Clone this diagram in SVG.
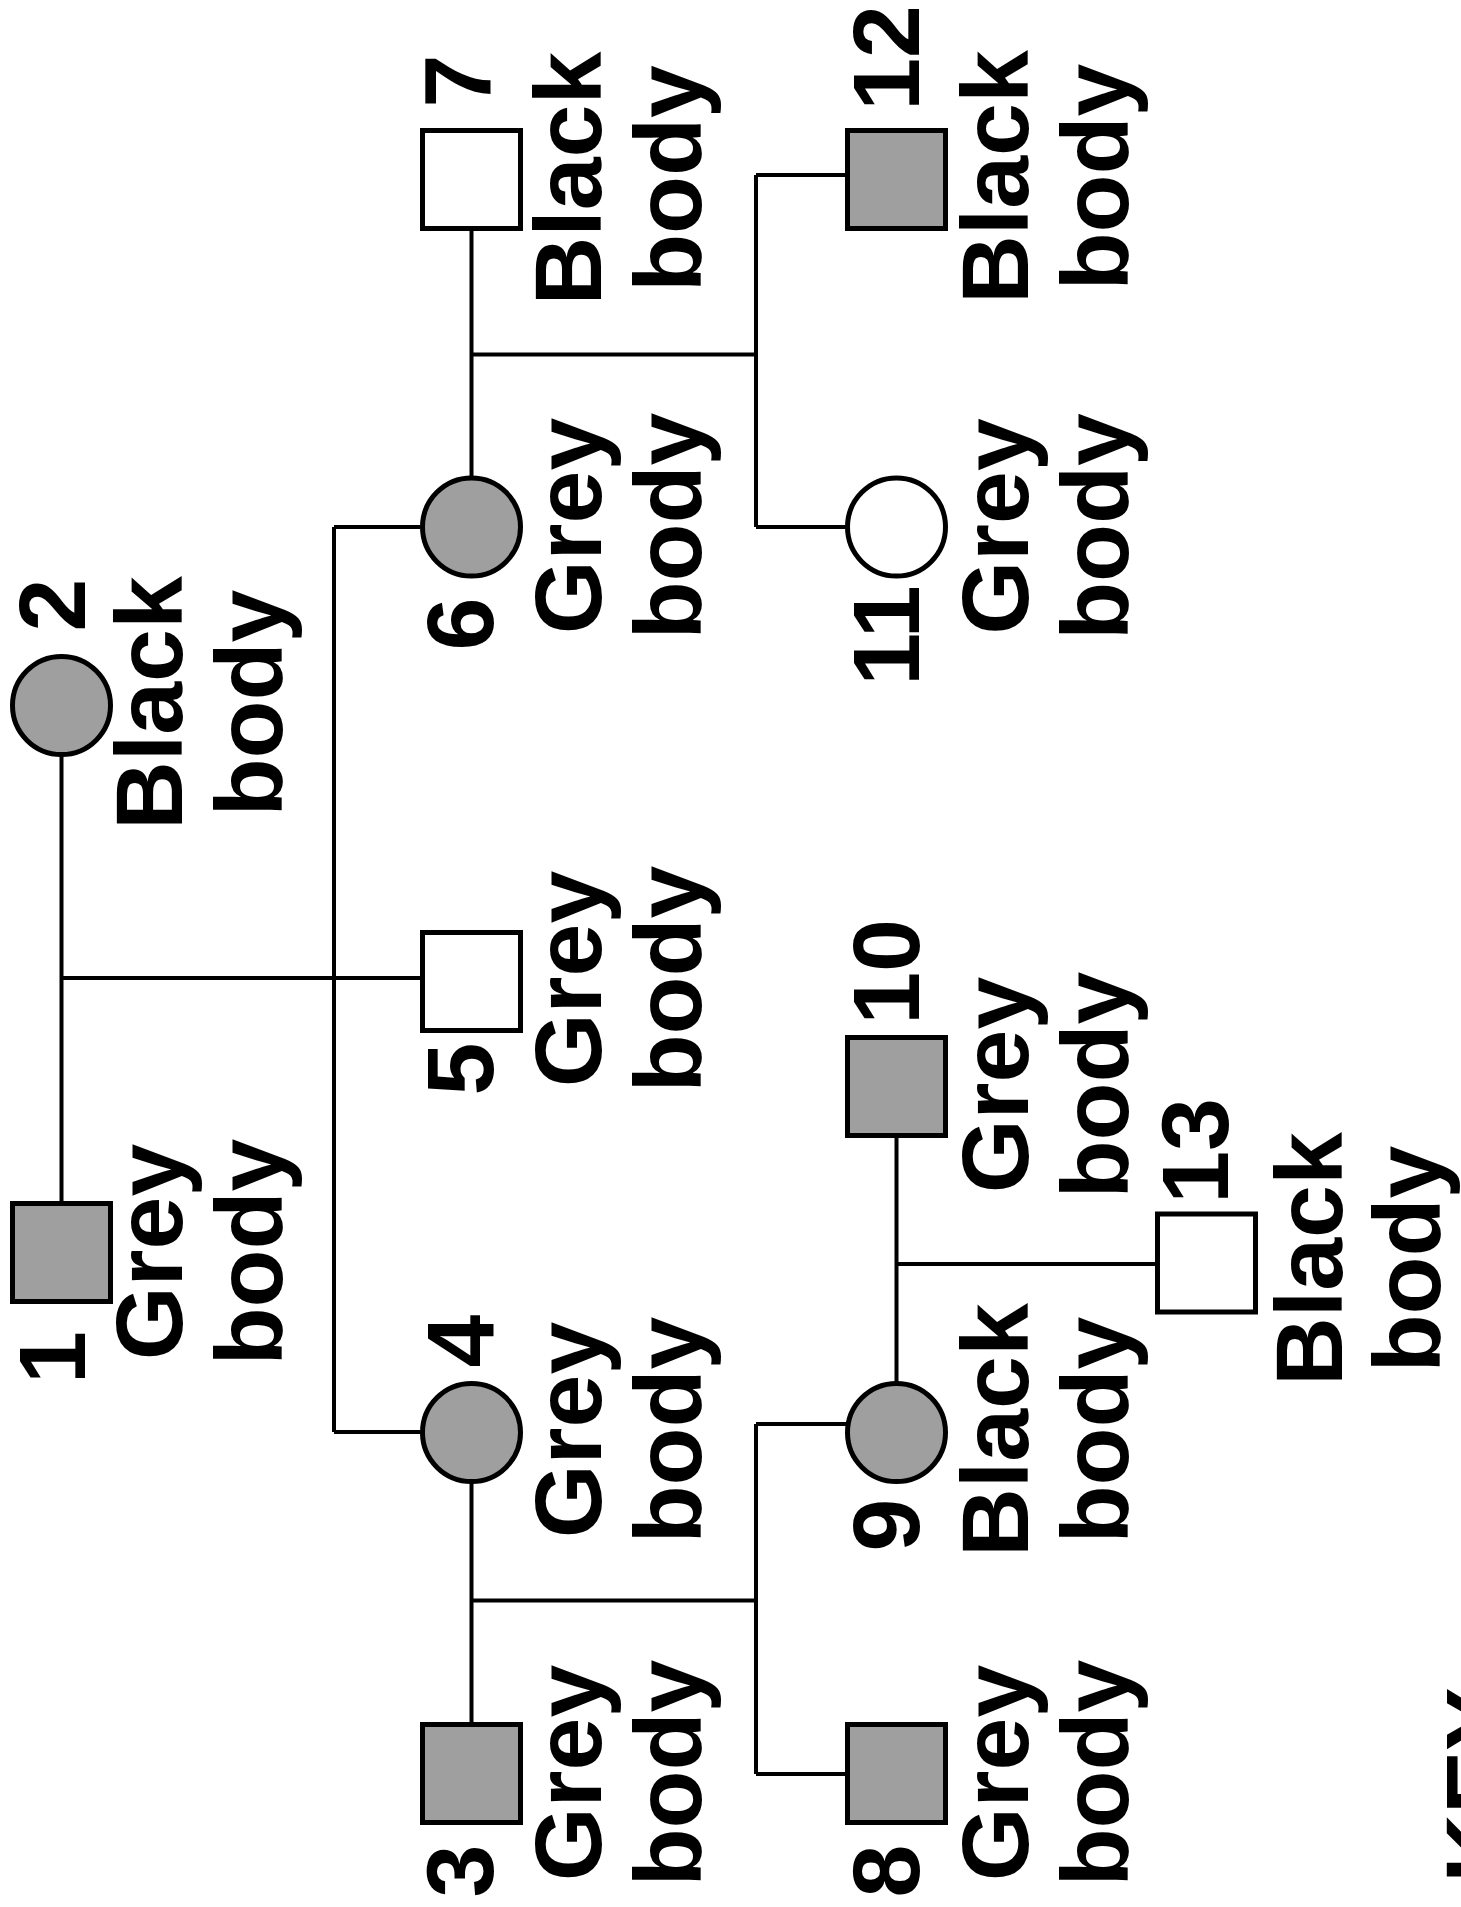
<svg xmlns="http://www.w3.org/2000/svg" width="1461" height="1907" viewBox="0 0 1461 1907">
<style>
.bg{fill:#ffffff}
.sh{stroke:#000;stroke-width:5}
.g{fill:#9f9f9f}
.w{fill:#ffffff}
.c{stroke:#000;stroke-width:4;fill:none}
.t{font-family:"Liberation Sans",Arial,Helvetica,sans-serif;font-weight:bold;font-size:95px;text-anchor:middle;fill:#000}
</style>
<rect class="bg" x="0" y="0" width="1461" height="1907"/>
<g id="connectors">
<path class="c" d="M61.5 756V1202"/>
<path class="c" d="M61.5 978H420.5"/>
<path class="c" d="M334 527V1432"/>
<path class="c" d="M334 527H420.5"/>
<path class="c" d="M334 1432H420.5"/>
<path class="c" d="M471.5 230.5V476.5"/>
<path class="c" d="M471.5 354.5H756"/>
<path class="c" d="M756 175V527"/>
<path class="c" d="M756 175H845.5"/>
<path class="c" d="M756 527H845.5"/>
<path class="c" d="M471.5 1483V1723"/>
<path class="c" d="M471.5 1600.5H756"/>
<path class="c" d="M756 1424V1774"/>
<path class="c" d="M756 1424H848"/>
<path class="c" d="M756 1774H845.5"/>
<path class="c" d="M896.5 1138V1382"/>
<path class="c" d="M896.5 1264H1155"/>
</g>
<g id="n1">
<rect class="sh g" x="12.5" y="1203.5" width="98" height="98"/>
<text class="t" x="85" y="1357.5" transform="rotate(-90 85 1357.5)">1</text>
<text class="t" x="182" y="1252" transform="rotate(-90 182 1252)">Grey</text>
<text class="t" x="282" y="1252" transform="rotate(-90 282 1252)">body</text>
</g>
<g id="n2">
<circle class="sh g" cx="61.5" cy="705.5" r="49"/>
<text class="t" x="85" y="605" transform="rotate(-90 85 605)">2</text>
<text class="t" x="182" y="703" transform="rotate(-90 182 703)">Black</text>
<text class="t" x="282" y="703" transform="rotate(-90 282 703)">body</text>
</g>
<g id="n3">
<rect class="sh g" x="422.5" y="1724.5" width="98" height="98"/>
<text class="t" x="493" y="1871" transform="rotate(-90 493 1871)">3</text>
<text class="t" x="601" y="1773" transform="rotate(-90 601 1773)">Grey</text>
<text class="t" x="701" y="1773" transform="rotate(-90 701 1773)">body</text>
</g>
<g id="n4">
<circle class="sh g" cx="471.5" cy="1432.5" r="49"/>
<text class="t" x="493" y="1341" transform="rotate(-90 493 1341)">4</text>
<text class="t" x="601" y="1430" transform="rotate(-90 601 1430)">Grey</text>
<text class="t" x="701" y="1430" transform="rotate(-90 701 1430)">body</text>
</g>
<g id="n5">
<rect class="sh w" x="422.5" y="932.5" width="98" height="98"/>
<text class="t" x="493" y="1069" transform="rotate(-90 493 1069)">5</text>
<text class="t" x="601" y="979" transform="rotate(-90 601 979)">Grey</text>
<text class="t" x="701" y="979" transform="rotate(-90 701 979)">body</text>
</g>
<g id="n6">
<circle class="sh g" cx="471.5" cy="527" r="49"/>
<text class="t" x="493" y="624" transform="rotate(-90 493 624)">6</text>
<text class="t" x="601" y="526" transform="rotate(-90 601 526)">Grey</text>
<text class="t" x="701" y="526" transform="rotate(-90 701 526)">body</text>
</g>
<g id="n7">
<rect class="sh w" x="422.5" y="130.5" width="98" height="98"/>
<text class="t" x="491" y="81" transform="rotate(-90 491 81)">7</text>
<text class="t" x="601" y="178.5" transform="rotate(-90 601 178.5)">Black</text>
<text class="t" x="701" y="178.5" transform="rotate(-90 701 178.5)">body</text>
</g>
<g id="n8">
<rect class="sh g" x="847.5" y="1724.5" width="98" height="98"/>
<text class="t" x="918.5" y="1871" transform="rotate(-90 918.5 1871)">8</text>
<text class="t" x="1028" y="1773" transform="rotate(-90 1028 1773)">Grey</text>
<text class="t" x="1128" y="1773" transform="rotate(-90 1128 1773)">body</text>
</g>
<g id="n9">
<circle class="sh g" cx="896.5" cy="1432.5" r="49"/>
<text class="t" x="918.5" y="1525" transform="rotate(-90 918.5 1525)">9</text>
<text class="t" x="1028" y="1430" transform="rotate(-90 1028 1430)">Black</text>
<text class="t" x="1128" y="1430" transform="rotate(-90 1128 1430)">body</text>
</g>
<g id="n10">
<rect class="sh g" x="847.5" y="1037.5" width="98" height="98"/>
<text class="t" x="918.5" y="972" transform="rotate(-90 918.5 972)">10</text>
<text class="t" x="1028" y="1085" transform="rotate(-90 1028 1085)">Grey</text>
<text class="t" x="1128" y="1085" transform="rotate(-90 1128 1085)">body</text>
</g>
<g id="n11">
<circle class="sh w" cx="896.5" cy="527" r="49"/>
<text class="t" x="918.5" y="635.5" transform="rotate(-90 918.5 635.5)">11</text>
<text class="t" x="1028" y="526.5" transform="rotate(-90 1028 526.5)">Grey</text>
<text class="t" x="1128" y="526.5" transform="rotate(-90 1128 526.5)">body</text>
</g>
<g id="n12">
<rect class="sh g" x="847.5" y="130.5" width="98" height="98"/>
<text class="t" x="918.5" y="58" transform="rotate(-90 918.5 58)">12</text>
<text class="t" x="1028" y="177" transform="rotate(-90 1028 177)">Black</text>
<text class="t" x="1128" y="177" transform="rotate(-90 1128 177)">body</text>
</g>
<g id="n13">
<rect class="sh w" x="1157.5" y="1214" width="98" height="98"/>
<text class="t" x="1228" y="1151" transform="rotate(-90 1228 1151)">13</text>
<text class="t" x="1342" y="1259" transform="rotate(-90 1342 1259)">Black</text>
<text class="t" x="1440" y="1259" transform="rotate(-90 1440 1259)">body</text>
</g>
<g id="key">
<text class="t" x="1512" y="1785" transform="rotate(-90 1512 1785)">KEY</text>
</g>
</svg>
